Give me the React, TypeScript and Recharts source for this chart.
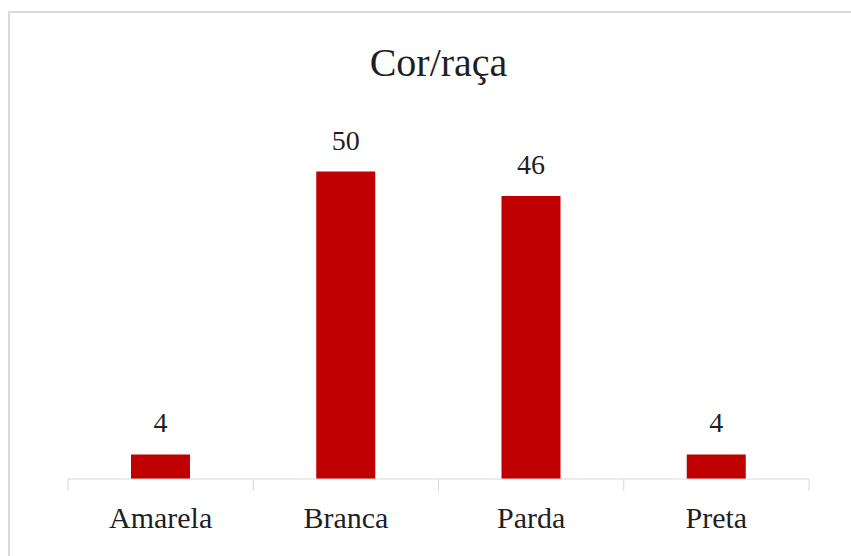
import { BarChart, Bar, XAxis, YAxis, LabelList } from "recharts";

const categories = ["Amarela", "Branca", "Parda", "Preta"];
const values = [4, 50, 46, 4];

const SERIF = '"Liberation Serif", "Times New Roman", serif';
const TEXT = "#1f1f1f";
const BAR = "#C00000";
const AXIS = "#d9d9d9";

const CHART_W = 843;
const MARGIN = { top: 99, right: 42, bottom: 7, left: 60 };
// width of one category band; the separator ticks sit on band edges
const BAND = (CHART_W - MARGIN.left - MARGIN.right) / categories.length;

const data = categories.map((name, i) => ({ name, value: values[i] }));

function CategoryTick(props: any) {
  const { x, y, payload, index, visibleTicksCount } = props;
  const last = index === visibleTicksCount - 1;
  return (
    <g>
      <line x1={x - BAND / 2} x2={x - BAND / 2} y1={y} y2={y + 12} stroke={AXIS} />
      {last && (
        <line x1={x + BAND / 2} x2={x + BAND / 2} y1={y} y2={y + 12} stroke={AXIS} />
      )}
      <text
        x={x}
        y={y + 28}
        dy="0.71em"
        textAnchor="middle"
        fontSize={30}
        fill={TEXT}
        fontFamily={SERIF}
      >
        {payload.value}
      </text>
    </g>
  );
}

export default function App() {
  return (
    <div
      style={{
        position: "absolute",
        left: 8,
        top: 11,
        width: 843,
        height: 545,
        boxSizing: "border-box",
        borderLeft: "2px solid #d9d9d9",
        borderTop: "2px solid #d9d9d9",
        background: "#fff",
        fontFamily: SERIF,
      }}
    >
      <div
        style={{
          position: "absolute",
          left: 58,
          top: 29.5,
          width: 741,
          textAlign: "center",
          fontSize: 40,
          lineHeight: "40px",
          color: TEXT,
        }}
      >
        Cor/raça
      </div>
      <div style={{ position: "absolute", left: -2, top: -2 }}>
        <BarChart width={CHART_W} height={545} data={data} margin={MARGIN}>
          <XAxis
            dataKey="name"
            height={70}
            axisLine={{ stroke: AXIS }}
            tickLine={false}
            tickSize={0}
            tickMargin={0}
            interval={0}
            tick={<CategoryTick />}
          />
          <YAxis hide domain={[0, 60]} />
          <Bar dataKey="value" fill={BAR} barSize={59} isAnimationActive={false}>
            <LabelList
              dataKey="value"
              position="top"
              offset={22}
              style={{ fontSize: 28, fill: TEXT, fontFamily: SERIF }}
            />
          </Bar>
        </BarChart>
      </div>
    </div>
  );
}
